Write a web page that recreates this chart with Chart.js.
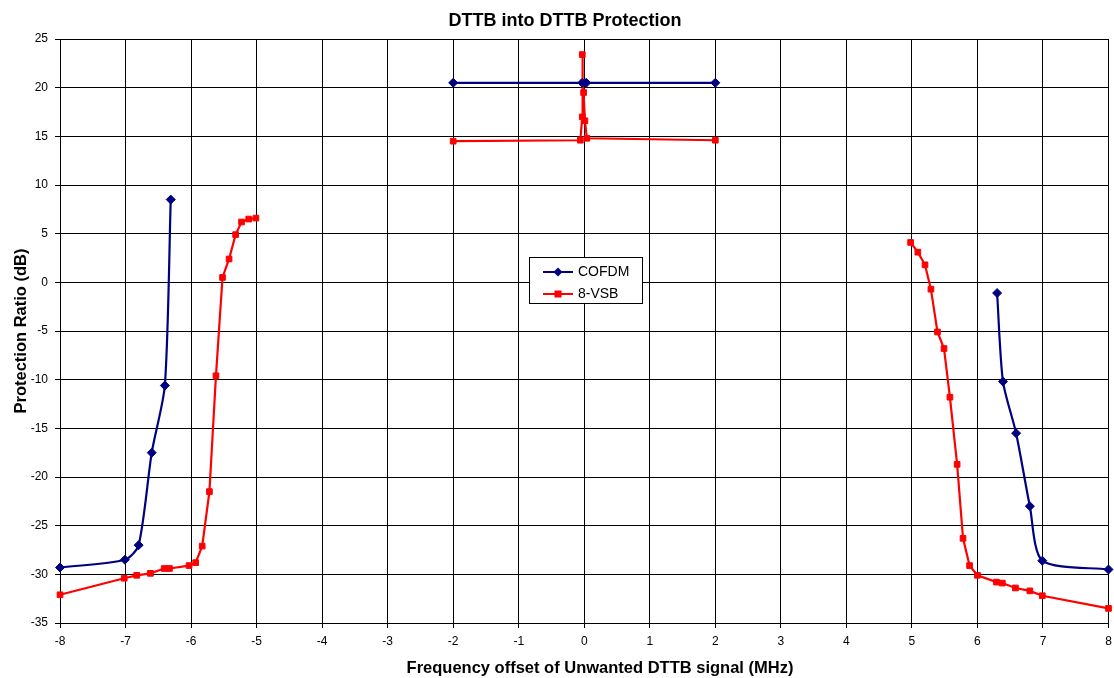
<!DOCTYPE html>
<html>
<head>
<meta charset="utf-8">
<script src="https://cdn.jsdelivr.net/npm/chart.js@4/dist/chart.umd.min.js"></script>
<style>
  html, body { margin: 0; padding: 0; background: #fff; }
  #wrap { position: relative; width: 1114px; height: 678px; }
</style>
</head>
<body>
<div id="wrap"><canvas id="c" width="1114" height="678"></canvas></div>
<script>
// ---- Data ----
const chartTitle = 'DTTB into DTTB Protection';
const xTitle = 'Frequency offset of Unwanted DTTB signal (MHz)';
const yTitle = 'Protection Ratio (dB)';
const seriesNames = ['COFDM', '8-VSB'];

// null entries break the line into separate branches
const cofdmX = [-8.0, -7.01, -6.8, -6.6, -6.4, -6.31, -4,
                -2.0, -0.03, 0.03, 2.0, 4,
                6.3, 6.39, 6.59, 6.8, 6.99, 8.0];
const cofdmY = [-29.3, -28.5, -27.0, -17.5, -10.6, 8.5, null,
                20.5, 20.5, 20.5, 20.5, null,
                -1.1, -10.2, -15.5, -23.0, -28.6, -29.5];

const vsbX = [-8.0, -7.02, -6.83, -6.62, -6.41, -6.33, -6.03, -5.93, -5.83, -5.72, -5.62, -5.52, -5.42, -5.32, -5.23, -5.12, -5.01, -4,
              -2.0, -0.06, -0.03, -0.03, -0.02, -0.01, 0.01, 0.04, 2.0, 4,
              4.98, 5.09, 5.2, 5.29, 5.39, 5.49, 5.58, 5.69, 5.78, 5.88, 6.0, 6.29, 6.38, 6.58, 6.8, 6.99, 8.0];
const vsbY = [-32.1, -30.4, -30.1, -29.9, -29.4, -29.4, -29.1, -28.8, -27.1, -21.5, -9.6, 0.5, 2.4, 4.9, 6.2, 6.5, 6.6, null,
              14.5, 14.6, 17.0, 23.4, 20.5, 19.5, 16.6, 14.8, 14.6, null,
              4.1, 3.1, 1.8, -0.7, -5.1, -6.8, -11.8, -18.7, -26.3, -29.1, -30.1, -30.8, -30.9, -31.4, -31.7, -32.2, -33.5];

const xMin = -8, xMax = 8, xStep = 1;
const yMin = -35, yMax = 25, yStep = 5;

const toPoints = (xs, ys) => xs.map((x, i) => ({ x: x, y: ys[i] }));

const FONT = "'Liberation Sans', Arial, sans-serif";
const BLUE = '#000080';
const RED = '#FF0000';

// Chart title and x-axis title placed like the original
const titles = {
  id: 'titles',
  afterDraw(chart) {
    const ctx = chart.ctx;
    ctx.save();
    ctx.fillStyle = '#000';
    ctx.textAlign = 'center';
    ctx.textBaseline = 'middle';
    ctx.font = 'bold 18px ' + FONT;
    ctx.fillText(chartTitle, 565, 21);
    ctx.font = 'bold 16.5px ' + FONT;
    ctx.fillText(xTitle, 600, 668);
    ctx.restore();
  }
};

// Legend drawn inside the plot like the original
const insideLegend = {
  id: 'insideLegend',
  afterDraw(chart) {
    const ctx = chart.ctx;
    const bx = 529.5, by = 257.5, bw = 113, bh = 46;
    ctx.save();
    ctx.fillStyle = '#fff';
    ctx.fillRect(bx, by, bw, bh);
    ctx.strokeStyle = '#000';
    ctx.lineWidth = 1;
    ctx.strokeRect(bx, by, bw, bh);
    const rows = [272, 294];
    chart.data.datasets.forEach((ds, i) => {
      const y = rows[i];
      ctx.strokeStyle = ds.borderColor;
      ctx.lineWidth = 2;
      ctx.beginPath();
      ctx.moveTo(543, y);
      ctx.lineTo(573, y);
      ctx.stroke();
      ctx.fillStyle = ds.pointBackgroundColor;
      if (ds.pointStyle === 'rectRot') {
        ctx.beginPath();
        ctx.moveTo(558, y - 4.5);
        ctx.lineTo(562.5, y);
        ctx.lineTo(558, y + 4.5);
        ctx.lineTo(553.5, y);
        ctx.closePath();
        ctx.fill();
      } else {
        ctx.fillRect(554.5, y - 3.5, 7, 7);
      }
      ctx.fillStyle = '#000';
      ctx.font = '14px ' + FONT;
      ctx.textBaseline = 'middle';
      ctx.textAlign = 'left';
      ctx.fillText(ds.label, 578, y + 0.5);
    });
    ctx.restore();
  }
};

new Chart(document.getElementById('c'), {
  type: 'scatter',
  data: {
    datasets: [
      {
        label: seriesNames[0],
        data: toPoints(cofdmX, cofdmY),
        showLine: true,
        spanGaps: false,
        borderColor: BLUE,
        backgroundColor: BLUE,
        pointBackgroundColor: BLUE,
        pointBorderColor: BLUE,
        borderWidth: 2.2,
        pointStyle: 'rectRot',
        pointRadius: 4.5,
        pointBorderWidth: 1,
        tension: 0.25,
        clip: false
      },
      {
        label: seriesNames[1],
        data: toPoints(vsbX, vsbY),
        showLine: true,
        spanGaps: false,
        borderColor: RED,
        backgroundColor: RED,
        pointBackgroundColor: RED,
        pointBorderColor: RED,
        borderWidth: 2.2,
        pointStyle: 'rect',
        pointRadius: 4,
        pointBorderWidth: 1,
        tension: 0,
        clip: false
      }
    ]
  },
  options: {
    responsive: false,
    animation: false,
    devicePixelRatio: 1,
    layout: { padding: { left: 0, right: 0, top: 39, bottom: 0 } },
    plugins: {
      legend: { display: false },
      tooltip: { enabled: false },
      title: { display: false }
    },
    scales: {
      x: {
        type: 'linear',
        min: xMin, max: xMax,
        afterFit(scale) { scale.height = 55; scale.paddingLeft = 0; scale.paddingRight = 4; },
        ticks: {
          stepSize: xStep,
          color: '#000',
          font: { family: FONT, size: 12 },
          padding: 6,
          maxRotation: 0
        },
        grid: { color: '#000', lineWidth: 1, tickLength: 5, drawTicks: true },
        border: { color: '#000', width: 1 },
        title: { display: false }
      },
      y: {
        type: 'linear',
        min: yMin, max: yMax,
        afterFit(scale) { scale.width = 60; scale.paddingTop = 0; scale.paddingBottom = 0; },
        ticks: {
          stepSize: yStep,
          color: '#000',
          font: { family: FONT, size: 12 },
          padding: 7
        },
        grid: { color: '#000', lineWidth: 1, tickLength: 5, drawTicks: true },
        border: { color: '#000', width: 1 },
        title: {
          display: true,
          text: yTitle,
          color: '#000',
          font: { family: FONT, size: 16.5, weight: 'bold', lineHeight: 1.2 },
          padding: { top: 12, bottom: 0 }
        }
      }
    }
  },
  plugins: [titles, insideLegend]
});
</script>
</body>
</html>
